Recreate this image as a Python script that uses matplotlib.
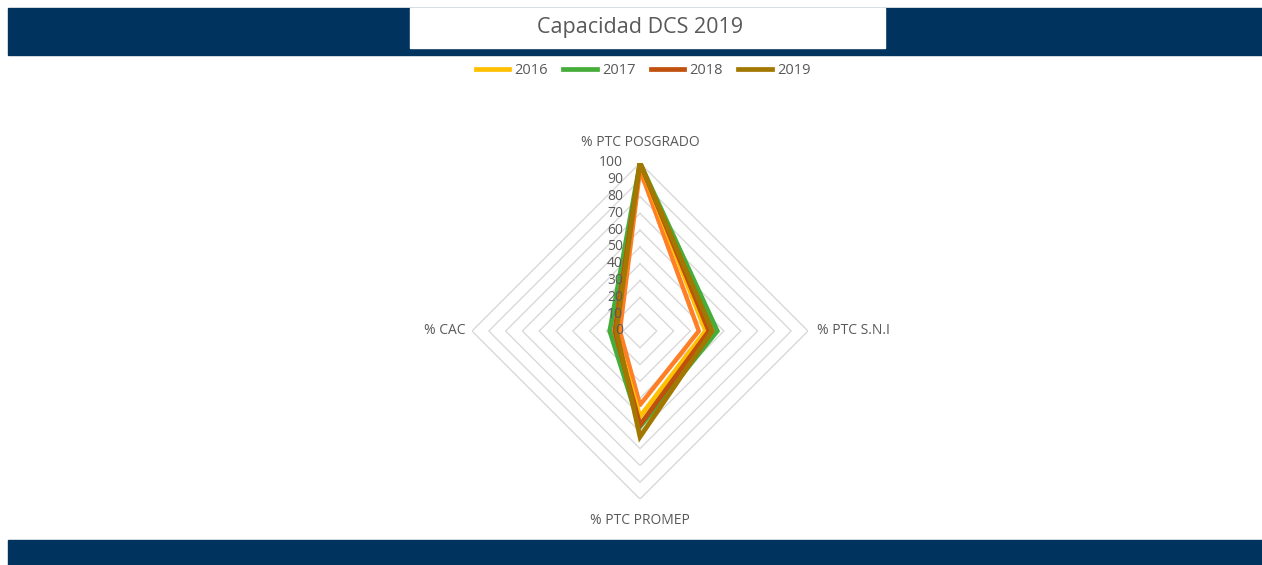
import numpy as np
import matplotlib
matplotlib.use('Agg')
import matplotlib.pyplot as plt
from matplotlib.patches import Rectangle
from matplotlib.transforms import offset_copy

plt.rcParams['font.family'] = ['Open Sans', 'DejaVu Sans']

categories = ['% PTC POSGRADO', '% PTC S.N.I', '% PTC PROMEP', '% CAC']
years = ['2016', '2017', '2018', '2019']
extra = [96, 35, 44, 12]   # orange line, not shown in the legend
v2016 = [100, 39, 51, 15]
v2017 = [100, 46, 57, 18]
v2018 = [100, 41, 56, 15]
v2019 = [100, 43, 63, 14]
ticks = [0, 10, 20, 30, 40, 50, 60, 70, 80, 90, 100]

colors = ['#FFC000', '#47AD3A', '#C0500E', '#A37800']
gray = '#595959'
navy = '#00345F'

fig = plt.figure(figsize=(12.62, 5.65), dpi=100)
W, H = 1262, 565

# banners
fig.patches.append(Rectangle((8 / W, 1 - 55 / H), 1 - 8 / W, 47 / H,
                             transform=fig.transFigure, color=navy, zorder=0))
fig.patches.append(Rectangle((410 / W, 1 - 48 / H), 475 / W, 40 / H,
                             transform=fig.transFigure, color='white', zorder=1))
fig.patches.append(Rectangle((8 / W, 0), 1 - 8 / W, 25 / H,
                             transform=fig.transFigure, color=navy, zorder=0))
fig.text(640 / W, 1 - 28 / H, 'Capacidad DCS 2019', ha='center', va='center',
         fontsize=15.5, color=gray, zorder=2)

cx, cy, R = 640, 565 - 331, 168
ax = fig.add_axes([(cx - R) / W, (cy - R) / H, 2 * R / W, 2 * R / H], polar=True)
ax.set_theta_zero_location('N')
ax.set_theta_direction(-1)
ax.set_ylim(0, 100)
ax.grid(False)
ax.spines['polar'].set_visible(False)
ax.set_xticks([])
ax.set_yticks([])
ax.patch.set_alpha(0)

theta = np.linspace(0, 2 * np.pi, len(categories), endpoint=False)
tc = np.append(theta, theta[0])

# diamond gridlines
for t in ticks[1:]:
    ax.plot(tc, [t] * len(tc), color='#D9D9D9', lw=1.0, zorder=1)

def closed(v):
    return v + v[:1]

ax.plot(tc, closed(extra), color='#FF7F27', lw=3.2, zorder=3, label='_nolegend_')
series = [v2016, v2017, v2018, v2019]
order = [1, 0, 2, 3]
for i in order:
    ax.plot(tc, closed(series[i]), color=colors[i], lw=3.4, zorder=3 + i,
            label=years[i], solid_joinstyle='miter')

# radial tick labels
lab_tr = offset_copy(ax.transData, fig=fig, x=-17, y=0, units='dots')
for t in ticks:
    ax.text(0, t, str(t), transform=lab_tr, ha='right', va='center',
            fontsize=10, color=gray, zorder=10)

# category labels
offs = [(0, 20, 'center', 'center'), (9, 0, 'left', 'center'),
        (0, -21, 'center', 'center'), (-7, 0, 'right', 'center')]
for th, name, (dx, dy, ha, va) in zip(theta, categories, offs):
    tr = offset_copy(ax.transData, fig=fig, x=dx, y=dy, units='dots')
    ax.text(th, 100, name, transform=tr, ha=ha, va=va, fontsize=10, color=gray)

handles, labels = ax.get_legend_handles_labels()
idx = [labels.index(y) for y in years]
fig.legend([handles[i] for i in idx], [labels[i] for i in idx],
           loc='center', bbox_to_anchor=(643 / W, 1 - 71 / H), ncol=4,
           frameon=False, fontsize=10.5, handlelength=2.3, handletextpad=0.35,
           columnspacing=1.05, labelcolor=gray)

fig.savefig('out.png', dpi=100)
